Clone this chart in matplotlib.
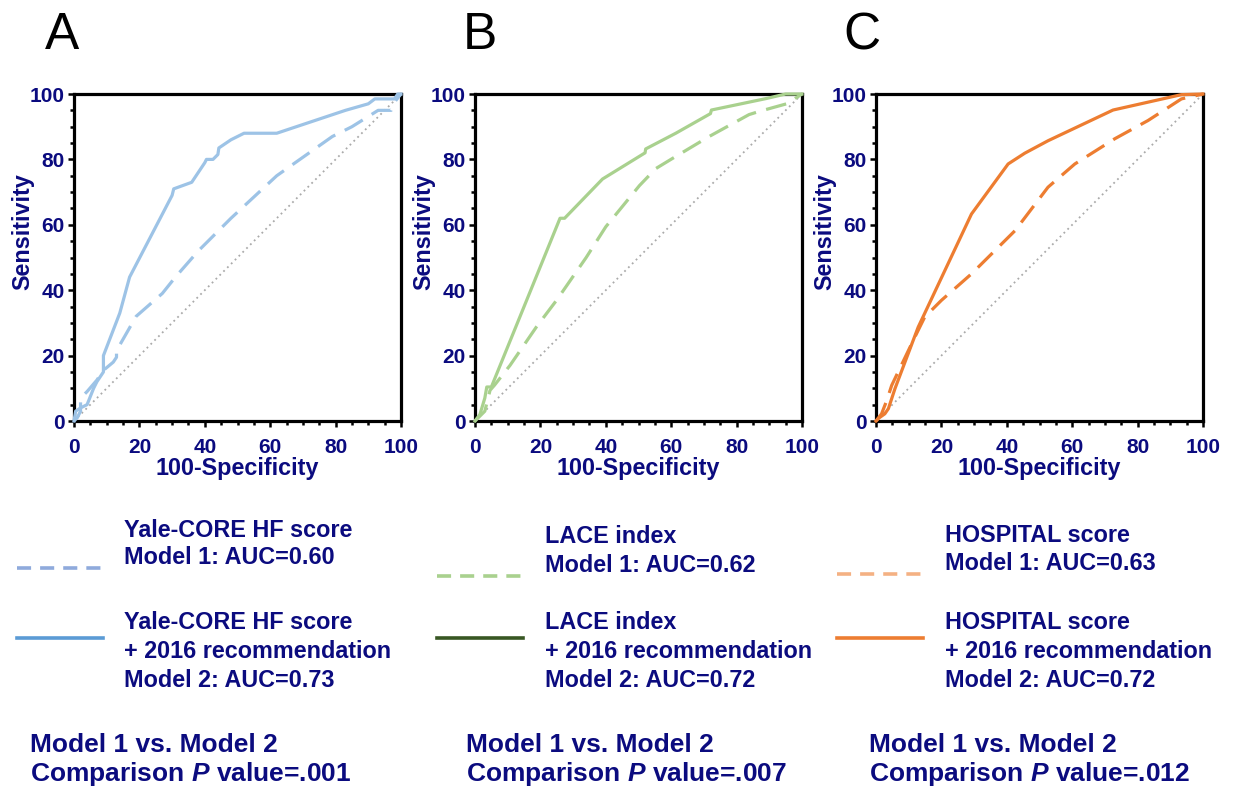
import matplotlib.pyplot as plt
from matplotlib.lines import Line2D
from matplotlib.ticker import MultipleLocator

plt.rcParams['font.family'] = ['Liberation Sans', 'DejaVu Sans']
plt.rcParams['mathtext.fontset'] = 'custom'
plt.rcParams['mathtext.bfit'] = 'Liberation Sans:italic:bold'

W, H = 1234, 789
NAVY = '#0b0b7f'

# ROC curves (100-specificity, sensitivity)
a_m1_x = [0, 1, 2, 2, 4, 7, 9, 12, 13, 13, 19, 27, 31, 38, 48, 62, 79, 85, 93, 97, 98, 100]
a_m1_y = [0, 1, 3, 7, 9, 12.5, 15.5, 18, 19.5, 21.5, 32, 39, 44, 52, 62, 75, 87, 90, 95, 95, 97.5, 100]
a_m2_x = [0, 0.5, 2, 4, 5, 6, 7, 9, 9, 14, 17, 30, 30.5, 36, 40, 40.5, 42.5, 44, 44.3,
          48, 52, 62, 83, 90, 92, 98, 99, 100]
a_m2_y = [0, 3, 4, 5, 7.5, 10, 12, 15, 20, 33, 44, 69, 71, 73, 79, 80, 80, 81.5, 83.5,
          86, 88, 88, 95, 97, 98.5, 98.5, 100, 100]

b_m1_x = [0, 3, 4.6, 6, 10.7, 18.8, 25, 34, 40, 50.3, 55.3, 60.4, 71.6, 83.8, 87, 96, 98, 100]
b_m1_y = [0, 3, 9.4, 11, 17, 28.8, 37, 50, 59.4, 72, 77.2, 80.3, 87, 93.7, 94.7, 97.2, 98.7, 100]
b_m2_x = [0, 1.5, 3, 3.6, 5, 26, 27.4, 39, 52, 52.2, 61.4, 72, 72.3, 89, 95, 100]
b_m2_y = [0, 2, 7, 10.4, 10.4, 62, 62, 74, 82, 83.2, 88, 94, 95.1, 98.6, 100, 100]

c_m1_x = [0, 1.7, 3.3, 4.8, 11.9, 14.9, 20, 29.2, 42.5, 52.6, 60.8, 73, 83.2, 93.4, 100]
c_m1_y = [0, 2.2, 6.3, 10.9, 25.7, 31.8, 36.9, 45, 58.2, 71.5, 78.6, 86.3, 91.9, 98.5, 100]
c_m2_x = [0, 1, 2.7, 3.8, 5.8, 12.9, 29.2, 40.4, 45.5, 52.6, 72.5, 93.4, 100]
c_m2_y = [0, 1, 2.2, 3.8, 9.9, 28.7, 63.3, 78.6, 81.9, 85.7, 95.1, 99.8, 100]

letters = ['A', 'B', 'C']
score_names = ['Yale-CORE HF score', 'LACE index', 'HOSPITAL score']
auc_m1 = ['0.60', '0.62', '0.63']
auc_m2 = ['0.73', '0.72', '0.72']
p_values = ['.001', '.007', '.012']

curves = [(a_m1_x, a_m1_y, a_m2_x, a_m2_y),
          (b_m1_x, b_m1_y, b_m2_x, b_m2_y),
          (c_m1_x, c_m1_y, c_m2_x, c_m2_y)]

line_colors = ['#9dc3e6', '#a9d18e', '#ed7d31']
leg_dash_colors = ['#8faadc', '#a9d18e', '#f4b183']
leg_solid_colors = ['#5b9bd5', '#385723', '#ed7d31']

ax_left = [74, 475, 876]
ax_top, ax_bottom, ax_w = 94, 421, 327
letter_x = [45, 463, 843]
leg_line_x = [17, 437, 837]
leg_text_x = [124, 545, 945]
leg_dash_y = [568, 576, 574]
leg_m1_base = [(537, 564), (543, 572), (542, 570)]
bottom_x = [30, 466, 869]

fig = plt.figure(figsize=(W / 100, H / 100), dpi=100)

for i in range(3):
    ax = fig.add_axes([ax_left[i] / W, 1 - ax_bottom / H, ax_w / W, (ax_bottom - ax_top) / H])
    m1x, m1y, m2x, m2y = curves[i]
    ax.plot([0, 100], [0, 100], color='#aaaaaa', lw=1.3, ls=(0, (1, 2)), zorder=2)
    ax.plot(m1x, m1y, color=line_colors[i], lw=2.3, dashes=(6.5, 3.3),
            clip_on=False, zorder=3)
    ax.plot(m2x, m2y, color=line_colors[i], lw=2.3, clip_on=False, zorder=4)
    ax.set_xlim(0, 100)
    ax.set_ylim(0, 100)
    ax.xaxis.set_major_locator(MultipleLocator(20))
    ax.yaxis.set_major_locator(MultipleLocator(20))
    ax.xaxis.set_minor_locator(MultipleLocator(5))
    ax.yaxis.set_minor_locator(MultipleLocator(5))
    for s in ax.spines.values():
        s.set_linewidth(2.3)
    ax.tick_params(which='major', length=4.5, width=1.8, labelsize=15,
                   labelcolor=NAVY, direction='out')
    ax.tick_params(which='minor', length=3, width=1.8, direction='out')
    ax.tick_params(axis='x', which='major', pad=8)
    ax.tick_params(axis='y', which='major', pad=2)
    for lab in ax.get_xticklabels() + ax.get_yticklabels():
        lab.set_fontweight('bold')
    ax.set_xlabel('100-Specificity', fontsize=16.8, fontweight='bold', color=NAVY, labelpad=0)
    ax.set_ylabel('Sensitivity', fontsize=16.8, fontweight='bold', color=NAVY)
    ax.yaxis.set_label_coords(-0.12, 0.58)

    fig.text(letter_x[i] / W, 1 - 49 / H, letters[i], fontsize=37, color='black',
             ha='left', va='baseline')

    # legend entries
    fig.add_artist(Line2D([leg_line_x[i] / W, (leg_line_x[i] + 85) / W],
                          [1 - leg_dash_y[i] / H] * 2, transform=fig.transFigure,
                          color=leg_dash_colors[i], lw=2.6, dashes=(3.9, 2.5)))
    fig.add_artist(Line2D([leg_line_x[i] / W, (leg_line_x[i] + 86) / W],
                          [1 - 638 / H] * 2, transform=fig.transFigure,
                          color=leg_solid_colors[i], lw=2.6))
    g1 = [score_names[i], 'Model 1: AUC=' + auc_m1[i]]
    for txt, yb in zip(g1, leg_m1_base[i]):
        fig.text(leg_text_x[i] / W, 1 - yb / H, txt, fontsize=16.8, fontweight='bold',
                 color=NAVY, ha='left', va='baseline')
    g2 = [score_names[i], '+ 2016 recommendation', 'Model 2: AUC=' + auc_m2[i]]
    for txt, yb in zip(g2, [629, 658, 687]):
        fig.text(leg_text_x[i] / W, 1 - yb / H, txt, fontsize=16.8, fontweight='bold',
                 color=NAVY, ha='left', va='baseline')

    fig.text(bottom_x[i] / W, 1 - 752 / H, 'Model 1 vs. Model 2', fontsize=19,
             fontweight='bold', color=NAVY, ha='left', va='baseline')
    fig.text(bottom_x[i] / W, 1 - 781 / H, r'Comparison $\mathbfit{P}$ value=' + p_values[i],
             fontsize=19, fontweight='bold', color=NAVY, ha='left', va='baseline')

fig.savefig('out.png', dpi=100)
